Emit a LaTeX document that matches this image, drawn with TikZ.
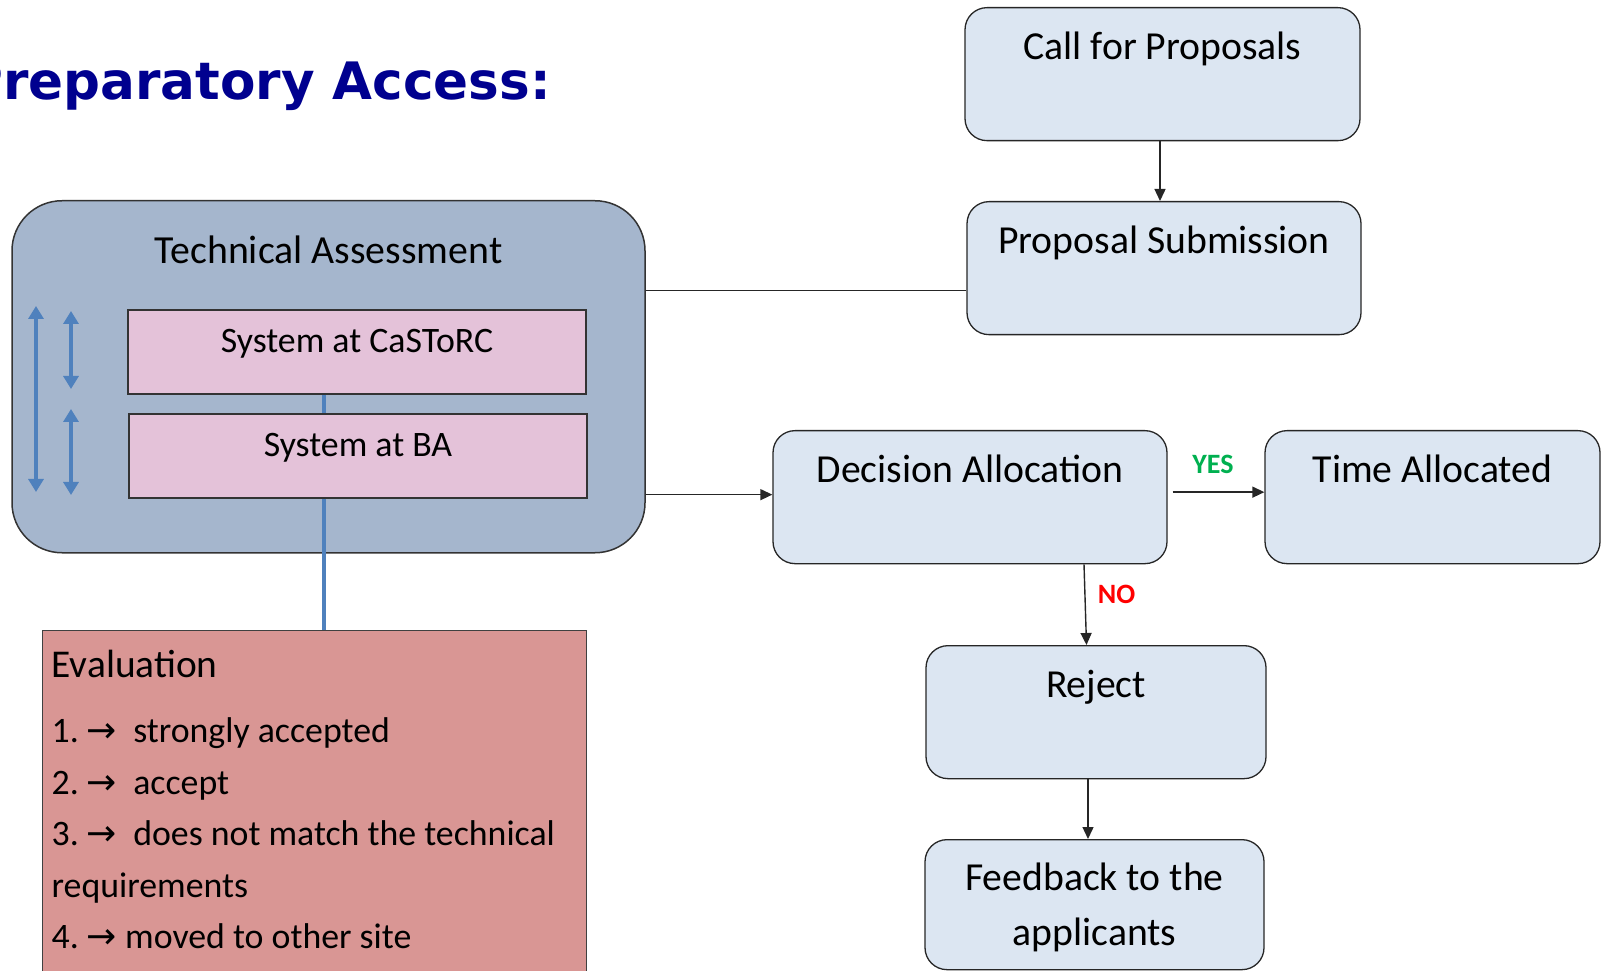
\documentclass[tikz,border=0pt]{standalone}
\usepackage{fontspec}
\setmainfont{Carlito}
\newfontfamily\titlefont{DejaVu Sans}
\newfontfamily\arrowfont{DejaVu Sans}
\usetikzlibrary{arrows.meta}
\frenchspacing

\definecolor{stagefill}{HTML}{DCE6F2}
\definecolor{techfill}{HTML}{A5B6CD}
\definecolor{sysfill}{HTML}{E4C2D9}
\definecolor{evalfill}{HTML}{D99694}
\definecolor{linkblue}{HTML}{4F81BD}
\definecolor{yesgreen}{HTML}{00B050}
\definecolor{titleblue}{HTML}{00008F}

\newcommand{\arr}{{\arrowfont\fontsize{36}{36}\selectfont →}}

\tikzset{
	stage/.style={draw=black!85, line width=1.3pt, fill=stagefill, rounded corners=22pt, align=center,
		font=\fontsize{39.7}{55}\selectfont, text height=52pt, text depth=81pt, inner ysep=0pt},
	techbox/.style={draw=black!80, line width=1.5pt, fill=techfill, rounded corners=50pt,
		font=\fontsize{39.8}{45}\selectfont, text height=63pt, text depth=289pt, inner ysep=0pt},
	system/.style={draw=black!80, line width=2pt, fill=sysfill,
		font=\fontsize{35.8}{42}\selectfont, text height=43pt, text depth=41pt, inner ysep=0pt},
	evalbox/.style={draw=black!75, line width=1.3pt, fill=evalfill, text width=526pt, align=flush left,
		inner xsep=9pt, inner ysep=0pt, text height=47pt, text depth=330pt, font=\fontsize{39.4}{51.5}\selectfont},
	line/.style={draw=black!85, line width=1.4pt},
	flow/.style={line, -{Triangle[length=12pt,width=11pt]}},
	answer/.style={font=\bfseries\fontsize{28}{30}\selectfont, inner sep=0pt},
	bluelink/.style={draw=linkblue, line width=4.5pt},
	twoway/.style={draw=linkblue, fill=linkblue, line width=4pt,
		{Triangle[length=13pt,width=15pt]}-{Triangle[length=13pt,width=15pt]}}
}

\begin{document}
\begin{tikzpicture}[x=1pt,y=1pt]
	\useasboundingbox (0,0) rectangle (1602,970);
	\clip (0,0) rectangle (1602,970);

	% title
	\node[anchor=base east, inner sep=0pt, text=titleblue, font=\titlefont\bfseries\fontsize{51.6}{60}\selectfont] (title) at (551,870) {Preparatory Access:};

	% technical assessment
	\node[techbox, minimum width=633pt, anchor=north] (tech) at (328.5,770) {Technical Assessment};
	\node[system, minimum width=458pt, anchor=north] (castorc) at (357,661) {System at CaSToRC};
	\node[system, minimum width=458pt, anchor=north] (ba) at (358,557) {System at BA};
	\foreach \xa/\ya/\yb in {36/664/478, 71/659/581, 71/561/475}
		\draw[twoway] (\xa,\ya) -- (\xa,\yb);

	% evaluation
	\node[evalbox, anchor=north west] (eval) at (42,340) {Evaluation\\[13.5pt]
		\fontsize{35.8}{51.5}\selectfont
		1. \arr~ strongly accepted\\
		2. \arr~ accept\\
		3. \arr~ does not match the technical\\
		requirements\\
		4. \arr{} moved to other site};

	\draw[bluelink] ([xshift=-33pt]castorc.south) -- ([xshift=-33pt]castorc.south |- ba.north);
	\draw[bluelink] ([xshift=-34pt]ba.south) -- ([xshift=-34pt]ba.south |- eval.north);

	% proposal flow
	\node[stage, minimum width=395pt, anchor=north] (call) at (1162.5,963) {Call for Proposals};
	\node[stage, minimum width=394pt, anchor=north] (submit) at (1164,769) {Proposal Submission};
	\node[stage, minimum width=394pt, anchor=north] (decision) at (970,540) {Decision Allocation};
	\node[stage, minimum width=335pt, anchor=north] (time) at (1432.5,540) {Time Allocated};
	\node[stage, minimum width=340pt, anchor=north] (reject) at (1096,325) {Reject};
	\node[stage, minimum width=339pt, anchor=north, text height=106pt, text depth=24pt] (feedback) at (1094.5,131) {Feedback to the\\applicants};

	\draw[flow] ([xshift=-2.5pt]call.south) -- ([xshift=-2.5pt]call.south |- submit.north);
	\draw[line] ([yshift=-22.5pt]submit.west) -- ([yshift=-22.5pt]tech.east |- submit.west);
	\draw[flow] ([yshift=2.5pt]tech.east |- decision.west) -- ([yshift=2.5pt]decision.west);
	\draw[flow] ([xshift=5pt,yshift=5pt]decision.east) -- ([yshift=5pt]time.west)
		node[answer, text=yesgreen, pos=0.44, anchor=base, yshift=18.5pt] {YES};
	\draw[flow] ([xshift=114pt]decision.south) -- ([xshift=-9.5pt]reject.north)
		node[answer, text=red, pos=0.48, anchor=base west, xshift=12pt] {NO};
	\draw[flow] ([xshift=-8pt]reject.south) -- ([xshift=-8pt]reject.south |- feedback.north);
\end{tikzpicture}
\end{document}
